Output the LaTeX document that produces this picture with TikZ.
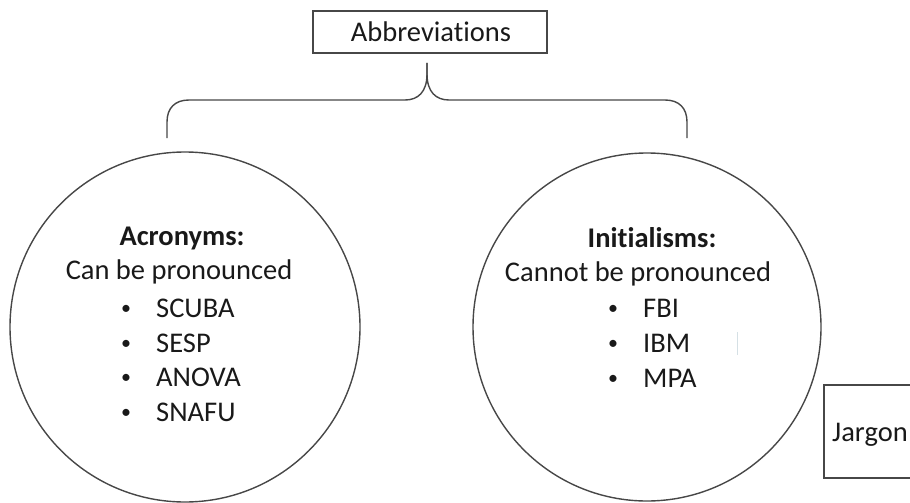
\documentclass[tikz,border=0pt]{standalone}
\usepackage{fontspec}
\setmainfont[Ligatures={NoCommon,NoContextual}]{Carlito}
\begin{document}
\begin{tikzpicture}[x=1pt,y=-1pt,
  line/.style={draw=black!72,line width=1.4pt},
  txt/.style={font=\fontsize{28.5}{34}\selectfont,inner sep=0pt,text=black!90},
  bold/.style={txt,font=\fontsize{28.5}{34}\selectfont\bfseries},
  bul/.style={txt,anchor=base,font=\fontsize{20}{24}\selectfont},
  item/.style={txt,anchor=base west}]
\useasboundingbox (0,0) rectangle (910,503);
% top box
\node[line,draw,minimum width=234,minimum height=42,inner sep=0pt] (abbr) at (430,32) {};
\node[txt,anchor=base] (abbrt) at (431,42) {Abbreviations};
% circles
\node[line,draw,circle,minimum size=350,inner sep=0pt] (acr) at (185,327) {};
\node[line,draw,circle,minimum size=348,inner sep=0pt] (ini) at (647,327) {};
% brace
\coordinate (bl) at (167,138);
\coordinate (br) at (687,138);
\coordinate (tip) at (427,63);
\draw[line,line join=round] (bl) -- (167,122) .. controls (167,108) and (175,100) .. (189,100)
  -- (405,100) .. controls (418,100) and (427,92) .. (427,74) -- (tip);
\draw[line,line join=round] (tip) -- (427,74) .. controls (427,92) and (436,100) .. (449,100)
  -- (665,100) .. controls (679,100) and (687,108) .. (687,122) -- (br);
% left circle text
\node[bold,anchor=base] (acrh) at (182,245) {Acronyms:};
\node[txt,anchor=base] (acrs) at (179,279) {Can be pronounced};
\node[bul] (b1) at (126,314) {•};
\node[item] (a1) at (156,317) {SCUBA};
\node[bul] (b2) at (126,349) {•};
\node[item] (a2) at (156,352) {SESP};
\node[bul] (b3) at (126,383) {•};
\node[item] (a3) at (156,386) {ANOVA};
\node[bul] (b4) at (126,418) {•};
\node[item] (a4) at (156,421) {SNAFU};
% right circle text
\node[bold,anchor=base] (inih) at (652,247) {Initialisms:};
\node[txt,anchor=base] (inis) at (638,281) {Cannot be pronounced};
\node[bul] (c1) at (613,314) {•};
\node[item] (i1) at (643,317) {FBI};
\node[bul] (c2) at (613,349) {•};
\node[item] (i2) at (643,352) {IBM};
\node[bul] (c3) at (613,384) {•};
\node[item] (i3) at (643,387) {MPA};
% faint mark
\draw[draw=cyan!25!gray!30,line width=1pt] (737,332) -- (737,355);
% jargon box
\draw[line] (912,385) -- (824,385) -- (824,478) -- (912,478);
\node[txt,anchor=base west] (jar) at (832,441) {Jargon};
\end{tikzpicture}
\end{document}
